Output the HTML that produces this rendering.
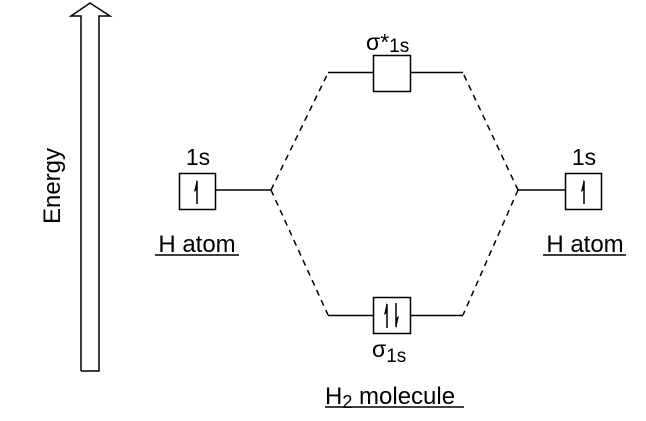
<!DOCTYPE html>
<html><head><style>body{margin:0;background:#fff}svg{display:block}text{font-family:"Liberation Sans",sans-serif;fill:#000}</style></head><body>
<svg width="646" height="421" viewBox="0 0 646 421" xmlns="http://www.w3.org/2000/svg">
<g fill="none" stroke="#000" stroke-width="1.5">
<polyline points="81,371 81,16 71,16 90,3 110,16 99,16 99,371 81,371" fill="#fff"/>
<rect x="179.5" y="173.5" width="36" height="36"/>
<rect x="565.5" y="173.5" width="36" height="36"/>
<rect x="373.5" y="55.5" width="37" height="36"/>
<rect x="373.5" y="297.5" width="37" height="36"/>
<line x1="216" y1="190" x2="271" y2="190"/>
<line x1="518" y1="190" x2="565" y2="190"/>
<line x1="328" y1="72.5" x2="373" y2="72.5"/>
<line x1="411" y1="72.5" x2="463" y2="72.5"/>
<line x1="328" y1="315.5" x2="373" y2="315.5"/>
<line x1="411" y1="315.5" x2="463" y2="315.5"/>
<g stroke-dasharray="6,5">
<line x1="271" y1="190" x2="328" y2="73"/>
<line x1="271" y1="190" x2="328" y2="315"/>
<line x1="518" y1="190" x2="463" y2="73"/>
<line x1="518" y1="190" x2="463" y2="315"/>
</g>
<line x1="197" y1="204" x2="197" y2="181"/>
<line x1="584" y1="204" x2="584" y2="181"/>
<line x1="387" y1="328" x2="387" y2="304"/>
<line x1="396" y1="303" x2="396" y2="327"/>
<line x1="155" y1="255" x2="239" y2="255"/>
<line x1="543" y1="255" x2="626" y2="255"/>
<line x1="325" y1="407" x2="464" y2="407"/>
</g>
<g fill="#000">
<polygon points="197,179 194,192 197,190"/>
<polygon points="584,179 581,192 584,190"/>
<polygon points="387,302 384,315 387,313"/>
<polygon points="396,329 399,316 396,318"/>
</g>
<text x="198" y="165" font-size="23" text-anchor="middle">1s</text>
<text x="584" y="165" font-size="23" text-anchor="middle">1s</text>
<text x="197" y="252" font-size="24" text-anchor="middle">H atom</text>
<text x="585" y="252" font-size="24" text-anchor="middle">H atom</text>
<text x="366" y="50" font-size="23">σ*<tspan font-size="19" dy="2">1s</tspan></text>
<text x="372" y="357" font-size="23">σ<tspan font-size="19" dy="5">1s</tspan></text>
<text x="325" y="404" font-size="24">H<tspan font-size="18" dy="4">2</tspan><tspan dy="-4"> molecule</tspan></text>
<text x="0" y="0" font-size="24" text-anchor="middle" transform="translate(60,186) rotate(-90)">Energy</text>
</svg>
</body></html>
